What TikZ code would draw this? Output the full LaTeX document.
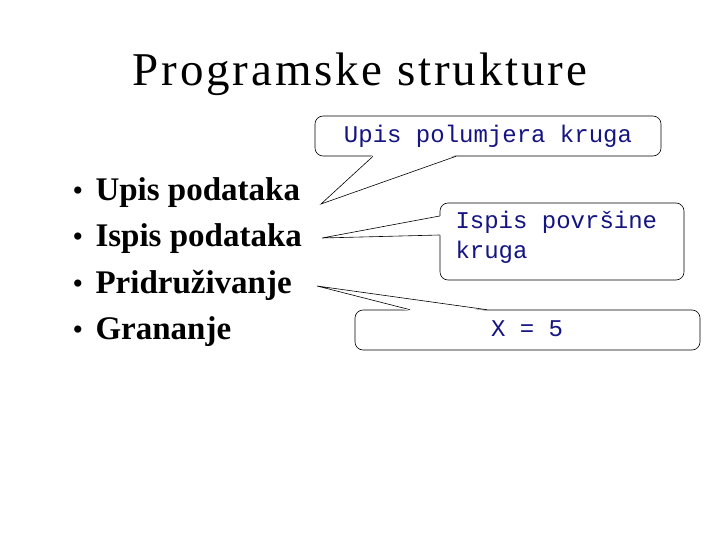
\documentclass[tikz,border=0pt]{standalone}
\usepackage{fontspec}
\setmainfont{Liberation Serif}
\newfontfamily\monof{Liberation Mono}
\definecolor{navy}{RGB}{20,20,130}
\begin{document}
\begin{tikzpicture}[x=1pt,y=-1pt,
  callout/.style={draw,rounded corners=8pt,fill=white,line width=0.6pt},
  ctext/.style={font=\monof\fontsize{24}{30}\selectfont,text=navy},
  item/.style={anchor=base west,font=\bfseries\fontsize{33}{38}\selectfont},
  tail/.style={line width=0.6pt}]
\useasboundingbox (0,0) rectangle (720,540);
\node[anchor=base] (title) at (360,86) {\addfontfeature{LetterSpace=6}\fontsize{47}{52}\selectfont Programske strukture};
\foreach \t [count=\i] in {Upis podataka,Ispis podataka,Pridruživanje,Grananje}{
  \node[anchor=base] (b\i) at (78,{155+46*\i}) {\fontsize{30}{34}\selectfont\textbullet};
  \node[item] (i\i) at (92,{155+46*\i}) {\t};
}
% callout 1
\draw[callout] (315,116) rectangle (661,156);
\node[ctext] (c1) at (488,136) {Upis polumjera kruga};
\coordinate (t1) at (321,204);
\fill[white] (373,155) -- (t1) -- (456,155) -- cycle;
\draw[tail] (373,156.3) -- (t1) -- (456,156.3);
% callout 2
\draw[callout] (440,203) rectangle (684,280);
\node[ctext,align=left,anchor=north west] (c2) at (452,208) {Ispis površine\\kruga};
\coordinate (t2) at (322,238);
\fill[white] (441,216) -- (t2) -- (441,235) -- cycle;
\draw[tail] (439.7,216) -- (t2) -- (439.7,235);
% callout 3
\draw[callout] (355,310) rectangle (700,350);
\node[ctext] (c3) at (527,329) {X = 5};
\coordinate (t3) at (317,286);
\fill[white] (410,311) -- (t3) -- (487,311) -- cycle;
\draw[tail] (410,309.7) -- (t3) -- (487,309.7);
\end{tikzpicture}
\end{document}
